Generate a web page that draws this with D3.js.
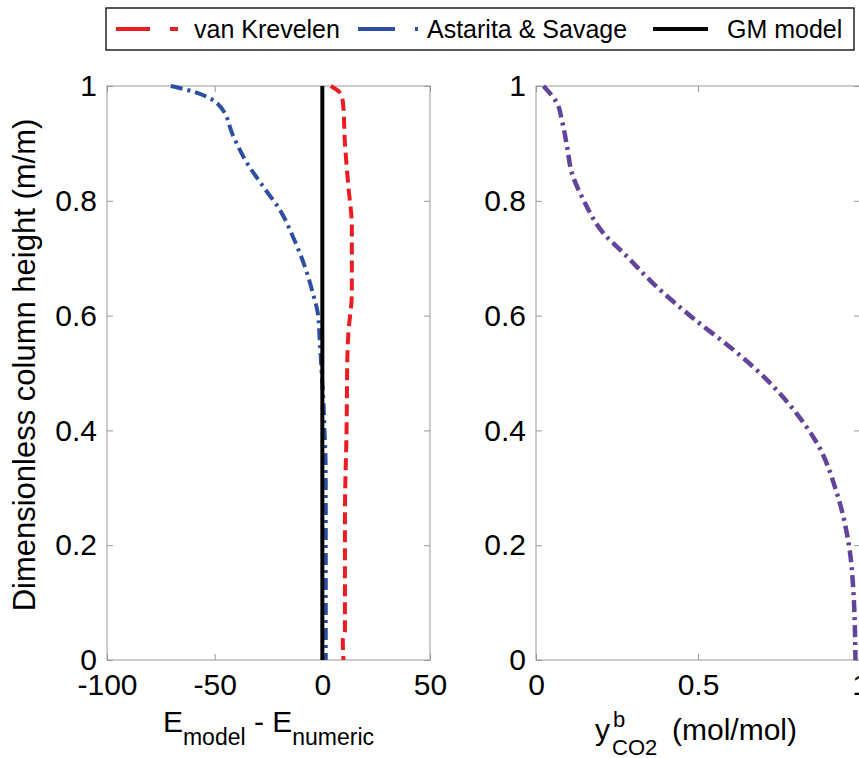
<!DOCTYPE html>
<html lang="en">
<head>
<meta charset="utf-8">
<title>Column profiles</title>
<script type="text/javascript" src="https://d3js.org/d3.v7.min.js"></script>
<style>
  body { margin: 0; background: #fff; }
  svg text { font-family: "Liberation Sans", Arial, sans-serif; fill: #000; }
</style>
</head>
<body>
<div id="container"></div>
<script type="text/javascript">

var w = 859;
var h = 758;

// left panel: E_model - E_numeric vs dimensionless height
var redHeights = [1.0, 0.988, 0.97, 0.90, 0.825, 0.755, 0.639, 0.57, 0.523, 0.413, 0.25, 0.052, 0.035, 0.0];
var vanKrevelen = [3.9, 8.2, 9.6, 10.5, 12.1, 13.7, 13.7, 12.1, 11.6, 11.3, 10.5, 10.5, 9.5, 9.8];

var blueHeights = [1.0, 0.993, 0.976, 0.964, 0.912, 0.866, 0.825, 0.784, 0.737, 0.685, 0.639, 0.604, 0.557, 0.5, 0.45, 0.4, 0.35, 0.3, 0.2, 0.1, 0.0];
var astaritaSavage = [-70.4, -62.6, -51, -47.4, -41.3, -35, -27.5, -19.7, -13.6, -8.1, -4.4, -2.1, -1.2, -0.3, 0.5, 1.0, 1.5, 1.6, 1.6, 1.6, 1.6];

var gmHeights = [0, 1];
var gmModel = [0, 0];

// right panel: bulk CO2 fraction vs height
var purpleHeights = [1.0, 0.97, 0.94, 0.894, 0.848, 0.801, 0.743, 0.709, 0.65, 0.595, 0.54, 0.488, 0.436, 0.378, 0.29, 0.203, 0.116, 0.0];
var yCO2 = [0.023, 0.065, 0.08, 0.096, 0.111, 0.147, 0.209, 0.27, 0.373, 0.486, 0.61, 0.713, 0.795, 0.867, 0.929, 0.965, 0.98, 0.986];

var leftTicksX = [-100, -50, 0, 50];
var rightTicksX = [0, 0.5, 1];
var ticksY = [0, 0.2, 0.4, 0.6, 0.8, 1];

var legendNames = ["van Krevelen", "Astarita & Savage", "GM model"];

var svg = d3.select("div#container").append("svg")
    .attr("width", w).attr("height", h)
    .attr("viewBox", "0 0 " + w + " " + h);

var y = d3.scaleLinear().domain([0, 1]).range([660, 86]);
var xL = d3.scaleLinear().domain([-100, 50]).range([107, 430]);
var xR = d3.scaleLinear().domain([0, 1]).range([536, 860]);

var fmt = function(d) { return d3.format("")(d).replace("\u2212", "-"); };

function drawFrame(x, xticks) {
    var g = svg.append("g");
    var x0 = x.range()[0], x1 = x.range()[1];
    // box
    g.append("rect").attr("x", x0).attr("y", y(1)).attr("width", x1 - x0).attr("height", y(0) - y(1))
        .attr("fill", "none").attr("stroke", "#999").attr("stroke-width", 1);
    // bottom axis
    var bot = g.append("g").attr("transform", "translate(0," + y(0) + ")")
        .call(d3.axisBottom(x).tickValues(xticks).tickSize(-6).tickPadding(14).tickFormat(fmt));
    // left axis
    var lft = g.append("g").attr("transform", "translate(" + x0 + ",0)")
        .call(d3.axisLeft(y).tickValues(ticksY).tickSize(-6).tickPadding(10).tickFormat(fmt));
    // top and right ticks
    g.append("g").attr("transform", "translate(0," + y(1) + ")")
        .call(d3.axisTop(x).tickValues(xticks).tickSize(-6).tickFormat(""));
    g.append("g").attr("transform", "translate(" + x1 + ",0)")
        .call(d3.axisRight(y).tickValues(ticksY).tickSize(-6).tickFormat(""));
    g.selectAll(".domain").remove();
    g.selectAll(".tick line").attr("stroke", "#999");
    g.selectAll(".tick text").attr("font-size", 30).attr("fill", "#000")
        .attr("font-family", "'Liberation Sans', Arial, sans-serif");
    bot.selectAll(".tick text").attr("dy", "0.71em");
    return g;
}

drawFrame(xL, leftTicksX);
drawFrame(xR, rightTicksX);

function curve(x, xs, ys, color, dash, width) {
    var pts = ys.map(function(v, i) { return [xs[i], v]; });
    var line = d3.line()
        .x(function(d) { return x(d[0]); })
        .y(function(d) { return y(d[1]); })
        .curve(d3.curveMonotoneY);
    svg.append("path").datum(pts)
        .attr("d", line)
        .attr("fill", "none")
        .attr("stroke", color)
        .attr("stroke-width", width)
        .attr("stroke-dasharray", dash);
}

var red = "#ec1c24", blue = "#2c4fa3", purple = "#62449a";

curve(xL, vanKrevelen, redHeights, red, "12,6", 4);
curve(xL, astaritaSavage, blueHeights, blue, "12,5,3,5", 4);
curve(xL, gmModel, gmHeights, "#000", null, 4);
curve(xR, yCO2, purpleHeights, purple, "12,5,3,5", 4.5);

// y label (left)
svg.append("text")
    .attr("transform", "translate(35," + 365 + ") rotate(-90)")
    .attr("text-anchor", "middle")
    .attr("font-size", 31)
    .text("Dimensionless column height (m/m)");

// x label left: E_model - E_numeric
var lx = svg.append("text").attr("x", d3.mean(xL.range())).attr("y", 732)
    .attr("text-anchor", "middle").attr("font-size", 30);
lx.append("tspan").text("E");
lx.append("tspan").attr("font-size", 23).attr("dy", 13).text("model");
lx.append("tspan").attr("dy", -13).text(" - E");
lx.append("tspan").attr("font-size", 23).attr("dy", 13).text("numeric");

// x label right: y^b_CO2 (mol/mol)
var rx = svg.append("text").attr("y", 740).attr("font-size", 30);
rx.append("tspan").attr("x", 595).text("y");
rx.append("tspan").attr("x", 613).attr("y", 727).attr("font-size", 22).text("b");
rx.append("tspan").attr("x", 612).attr("y", 755).attr("font-size", 22).text("CO2");
rx.append("tspan").attr("x", 672).attr("y", 740).text("(mol/mol)");

// legend
var leg = svg.append("g");
leg.append("rect").attr("x", 106).attr("y", 8).attr("width", 748).attr("height", 42)
    .attr("fill", "#fff").attr("stroke", "#000").attr("stroke-width", 1.3);
var legItems = [
    { x: 116, len: 62, color: red, dash: "34,20,8,100", tx: 194 },
    { x: 358, len: 61, color: blue, dash: "37,20,3,100", tx: 427 },
    { x: 653, len: 55, color: "#000", dash: null, tx: 727 }
];
legItems.forEach(function(it, i) {
    leg.append("line").attr("x1", it.x).attr("x2", it.x + it.len).attr("y1", 29).attr("y2", 29)
        .attr("stroke", it.color).attr("stroke-width", 4).attr("stroke-dasharray", it.dash);
    leg.append("text").attr("x", it.tx).attr("y", 38).attr("font-size", 25).text(legendNames[i]);
});

</script>
</body>
</html>
